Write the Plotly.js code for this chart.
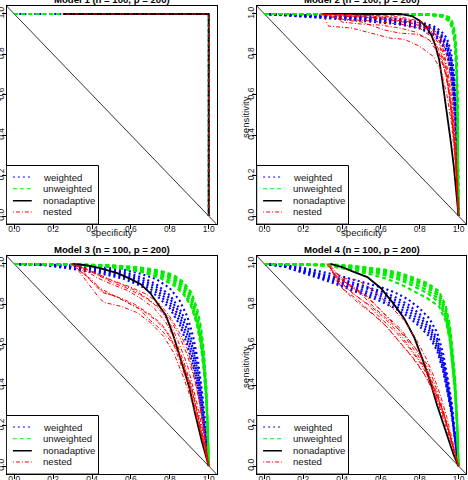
<!DOCTYPE html>
<html><head><meta charset="utf-8">
<script src="https://cdn.plot.ly/plotly-3.0.1.min.js"></script>
<style>html,body{margin:0;padding:0;background:#fff}#chart{width:468px;height:480px}</style>
</head><body><div id="chart"></div>
<script>
// ---------- text ----------
const panelTitles = ['Model 1 (n = 100, p = 200)', 'Model 2 (n = 100, p = 200)',
                     'Model 3 (n = 100, p = 200)', 'Model 4 (n = 100, p = 200)'];
const legendLabels = ['weighted', 'unweighted', 'nonadaptive', 'nested'];
const tickVals = [0, 0.2, 0.4, 0.6, 0.8, 1.0];
const tickLabels = ['0.0', '0.2', '0.4', '0.6', '0.8', '1.0'];
const xTitle = 'specificity';
const yTitle = 'sensitivity';

// reference line sens = 1 - spec
const diagSpec = [-0.04, 1.04];
const diagSens = [1.04, -0.04];

// ---------- Model 1 ----------
const m1WeightedSpec = [0, 1, 1];
const m1WeightedSens = [[1, 1, 0]];
const m1UnweightedSpec = [0, 1, 1];
const m1UnweightedSens = [[1, 1, 0]];
const m1NonadaptiveSpec = [0.25, 1, 1];
const m1NonadaptiveSens = [[1, 1, 0]];
const m1NestedSpec = [[0.25, 1, 1]];
const m1NestedSens = [[1, 1, 0]];

// ---------- Model 2 ----------
const m2WeightedSpec = [0, 0.3, 0.5, 0.7, 0.8, 0.87, 0.91, 0.94, 0.96, 0.975, 0.985, 0.993, 1];
const m2WeightedSens = [
  [1, 0.995, 0.988, 0.975, 0.96, 0.94, 0.915, 0.88, 0.82, 0.72, 0.58, 0.38, 0],
  [1, 0.992, 0.983, 0.968, 0.952, 0.93, 0.9, 0.86, 0.79, 0.68, 0.53, 0.33, 0],
  [1, 0.988, 0.977, 0.96, 0.944, 0.918, 0.885, 0.84, 0.76, 0.64, 0.49, 0.3, 0],
  [1, 0.985, 0.972, 0.953, 0.935, 0.905, 0.87, 0.82, 0.73, 0.6, 0.45, 0.27, 0],
  [1, 0.99, 0.98, 0.964, 0.948, 0.924, 0.893, 0.85, 0.775, 0.66, 0.51, 0.31, 0],
  [1, 0.982, 0.967, 0.948, 0.928, 0.897, 0.86, 0.805, 0.71, 0.58, 0.43, 0.25, 0]
];
const m2UnweightedSpec = [0, 0.5, 0.85, 0.92, 0.95, 0.965, 0.975, 0.983, 0.99, 0.995, 1];
const m2UnweightedSens = [
  [1, 1, 0.998, 0.993, 0.98, 0.96, 0.93, 0.88, 0.76, 0.55, 0],
  [1, 1, 0.997, 0.99, 0.975, 0.95, 0.915, 0.86, 0.73, 0.5, 0],
  [1, 1, 0.996, 0.988, 0.97, 0.945, 0.905, 0.84, 0.7, 0.47, 0],
  [1, 0.999, 0.995, 0.985, 0.965, 0.935, 0.89, 0.82, 0.67, 0.44, 0],
  [1, 1, 0.999, 0.995, 0.985, 0.968, 0.94, 0.9, 0.79, 0.6, 0],
  [1, 1, 0.998, 0.991, 0.978, 0.955, 0.925, 0.87, 0.745, 0.52, 0]
];
const m2NonadaptiveSpec = [0.3, 0.7, 0.76, 0.8, 0.835, 0.86, 0.88, 0.9, 0.915, 0.93, 0.945, 0.96, 0.975, 0.988, 1];
const m2NonadaptiveSens = [[1, 1, 0.99, 0.967, 0.935, 0.895, 0.845, 0.775, 0.68, 0.58, 0.48, 0.37, 0.25, 0.12, 0]];
const m2NestedSpec = [
  [0.28, 0.5, 0.7, 0.8, 0.86, 0.9, 0.93, 0.95, 0.97, 0.985, 1],
  [0.30, 0.45, 0.6, 0.75, 0.85, 0.9, 0.93, 0.955, 0.975, 0.99, 1],
  [0.32, 0.4, 0.55, 0.7, 0.8, 0.87, 0.91, 0.94, 0.96, 0.98, 1],
  [0.30, 0.33, 0.45, 0.55, 0.65, 0.72, 0.8, 0.87, 0.91, 0.94, 0.965, 0.985, 1],
  [0.34, 0.4, 0.5, 0.6, 0.7, 0.78, 0.85, 0.9, 0.935, 0.96, 0.98, 1],
  [0.36, 0.5, 0.65, 0.75, 0.82, 0.88, 0.92, 0.945, 0.965, 0.985, 1],
  [0.29, 0.42, 0.5, 0.62, 0.7, 0.78, 0.84, 0.89, 0.925, 0.95, 0.97, 0.99, 1],
  [0.31, 0.55, 0.72, 0.82, 0.88, 0.92, 0.945, 0.965, 0.98, 0.993, 1]
];
const m2NestedSens = [
  [1, 0.995, 0.985, 0.965, 0.93, 0.87, 0.77, 0.65, 0.48, 0.3, 0],
  [1, 0.99, 0.98, 0.96, 0.92, 0.85, 0.75, 0.6, 0.42, 0.2, 0],
  [0.99, 0.975, 0.965, 0.95, 0.93, 0.88, 0.8, 0.68, 0.53, 0.33, 0],
  [1, 0.94, 0.93, 0.905, 0.88, 0.875, 0.84, 0.79, 0.72, 0.6, 0.45, 0.25, 0],
  [1, 0.96, 0.95, 0.945, 0.93, 0.91, 0.87, 0.8, 0.7, 0.55, 0.35, 0],
  [0.99, 0.985, 0.97, 0.955, 0.94, 0.9, 0.83, 0.72, 0.58, 0.35, 0],
  [1, 0.97, 0.96, 0.92, 0.905, 0.9, 0.88, 0.83, 0.74, 0.62, 0.46, 0.22, 0],
  [1, 0.99, 0.975, 0.95, 0.915, 0.86, 0.77, 0.64, 0.45, 0.22, 0]
];

// ---------- Model 3 ----------
const m3WeightedSpec = [0, 0.15, 0.27, 0.44, 0.56, 0.65, 0.73, 0.8, 0.85, 0.89, 0.92, 0.945, 0.965, 0.985, 1];
const m3WeightedSens = [
  [1, 0.998, 0.993, 0.978, 0.962, 0.936, 0.9, 0.845, 0.78, 0.7, 0.6, 0.49, 0.35, 0.17, 0],
  [1, 0.997, 0.99, 0.972, 0.953, 0.925, 0.887, 0.83, 0.76, 0.675, 0.575, 0.46, 0.32, 0.15, 0],
  [1, 0.996, 0.987, 0.966, 0.945, 0.914, 0.873, 0.813, 0.74, 0.65, 0.55, 0.43, 0.29, 0.135, 0],
  [1, 0.995, 0.984, 0.96, 0.937, 0.903, 0.86, 0.797, 0.72, 0.625, 0.52, 0.4, 0.27, 0.12, 0],
  [1, 0.994, 0.98, 0.953, 0.928, 0.892, 0.845, 0.78, 0.7, 0.6, 0.495, 0.38, 0.25, 0.11, 0],
  [1, 0.998, 0.995, 0.985, 0.972, 0.952, 0.925, 0.88, 0.82, 0.74, 0.64, 0.52, 0.37, 0.18, 0]
];
const m3UnweightedSpec = [0, 0.3, 0.5, 0.65, 0.75, 0.82, 0.87, 0.91, 0.94, 0.96, 0.975, 0.988, 0.996, 1];
const m3UnweightedSens = [
  [1, 0.999, 0.994, 0.983, 0.967, 0.946, 0.91, 0.86, 0.78, 0.69, 0.57, 0.39, 0.17, 0],
  [1, 0.998, 0.992, 0.979, 0.961, 0.938, 0.9, 0.845, 0.76, 0.665, 0.545, 0.37, 0.16, 0],
  [1, 0.998, 0.99, 0.975, 0.955, 0.93, 0.89, 0.83, 0.74, 0.64, 0.52, 0.35, 0.15, 0],
  [1, 0.997, 0.987, 0.97, 0.948, 0.92, 0.877, 0.812, 0.72, 0.615, 0.495, 0.33, 0.14, 0],
  [1, 0.996, 0.984, 0.964, 0.94, 0.908, 0.862, 0.795, 0.7, 0.59, 0.47, 0.31, 0.13, 0],
  [1, 0.997, 0.985, 0.962, 0.93, 0.895, 0.85, 0.79, 0.705, 0.6, 0.48, 0.32, 0.135, 0]
];
const m3NonadaptiveSpec = [0.3, 0.36, 0.44, 0.53, 0.6, 0.65, 0.7, 0.74, 0.78, 0.82, 0.86, 0.9, 0.93, 0.965, 1];
const m3NonadaptiveSens = [[1, 0.995, 0.98, 0.955, 0.925, 0.9, 0.855, 0.8, 0.745, 0.64, 0.52, 0.39, 0.26, 0.12, 0]];
const m3NestedSpec = [
  [0.3, 0.34, 0.38, 0.43, 0.5, 0.58, 0.65, 0.72, 0.78, 0.83, 0.87, 0.91, 0.95, 0.98, 1],
  [0.31, 0.36, 0.41, 0.45, 0.52, 0.6, 0.66, 0.73, 0.79, 0.84, 0.88, 0.92, 0.955, 0.98, 1],
  [0.29, 0.33, 0.4, 0.46, 0.55, 0.62, 0.7, 0.76, 0.81, 0.86, 0.9, 0.93, 0.96, 0.985, 1],
  [0.32, 0.36, 0.4, 0.43, 0.46, 0.55, 0.63, 0.7, 0.77, 0.82, 0.87, 0.91, 0.95, 0.98, 1],
  [0.33, 0.4, 0.47, 0.55, 0.62, 0.7, 0.76, 0.81, 0.85, 0.89, 0.92, 0.95, 0.975, 1],
  [0.3, 0.37, 0.44, 0.5, 0.58, 0.66, 0.74, 0.8, 0.85, 0.89, 0.93, 0.96, 0.985, 1],
  [0.35, 0.39, 0.44, 0.5, 0.56, 0.64, 0.7, 0.76, 0.82, 0.86, 0.9, 0.94, 0.97, 1],
  [0.3, 0.35, 0.42, 0.5, 0.6, 0.68, 0.75, 0.8, 0.85, 0.89, 0.92, 0.95, 0.975, 1]
];
const m3NestedSens = [
  [1, 0.98, 0.96, 0.93, 0.9, 0.87, 0.83, 0.78, 0.71, 0.62, 0.52, 0.4, 0.24, 0.1, 0],
  [0.99, 0.95, 0.9, 0.86, 0.84, 0.8, 0.77, 0.72, 0.66, 0.57, 0.47, 0.35, 0.2, 0.09, 0],
  [1, 0.97, 0.92, 0.86, 0.83, 0.8, 0.75, 0.7, 0.62, 0.53, 0.42, 0.31, 0.18, 0.07, 0],
  [0.98, 0.93, 0.88, 0.84, 0.81, 0.79, 0.76, 0.71, 0.64, 0.56, 0.44, 0.33, 0.2, 0.08, 0],
  [0.99, 0.96, 0.93, 0.9, 0.87, 0.82, 0.76, 0.69, 0.6, 0.5, 0.39, 0.27, 0.14, 0],
  [1, 0.975, 0.94, 0.91, 0.88, 0.84, 0.79, 0.73, 0.64, 0.55, 0.42, 0.28, 0.12, 0],
  [0.97, 0.92, 0.88, 0.85, 0.82, 0.78, 0.72, 0.67, 0.6, 0.5, 0.39, 0.25, 0.12, 0],
  [1, 0.985, 0.955, 0.92, 0.885, 0.85, 0.8, 0.74, 0.66, 0.58, 0.47, 0.33, 0.17, 0]
];

// ---------- Model 4 ----------
const m4WeightedSpec = [0, 0.1, 0.18, 0.27, 0.36, 0.45, 0.53, 0.6, 0.67, 0.74, 0.8, 0.85, 0.89, 0.92, 0.945, 0.965, 0.98, 1];
const m4WeightedSens = [
  [1, 0.993, 0.978, 0.958, 0.935, 0.91, 0.888, 0.865, 0.838, 0.8, 0.752, 0.7, 0.63, 0.53, 0.41, 0.29, 0.16, 0],
  [1, 0.991, 0.974, 0.951, 0.927, 0.9, 0.877, 0.853, 0.824, 0.785, 0.736, 0.685, 0.615, 0.515, 0.395, 0.28, 0.155, 0],
  [1, 0.99, 0.97, 0.945, 0.92, 0.89, 0.865, 0.84, 0.81, 0.77, 0.72, 0.67, 0.6, 0.5, 0.38, 0.27, 0.15, 0],
  [1, 0.988, 0.966, 0.938, 0.912, 0.88, 0.853, 0.827, 0.796, 0.755, 0.704, 0.655, 0.585, 0.485, 0.365, 0.26, 0.145, 0],
  [1, 0.987, 0.962, 0.932, 0.904, 0.87, 0.842, 0.815, 0.782, 0.74, 0.69, 0.64, 0.57, 0.47, 0.355, 0.25, 0.14, 0],
  [1, 0.995, 0.985, 0.968, 0.948, 0.925, 0.905, 0.885, 0.86, 0.825, 0.78, 0.73, 0.66, 0.56, 0.43, 0.31, 0.17, 0]
];
const m4UnweightedSpec = [0, 0.2, 0.35, 0.45, 0.53, 0.62, 0.7, 0.77, 0.84, 0.9, 0.935, 0.955, 0.97, 0.982, 0.992, 1];
const m4UnweightedSens = [
  [1, 1, 0.998, 0.992, 0.984, 0.972, 0.955, 0.932, 0.905, 0.865, 0.79, 0.7, 0.57, 0.44, 0.25, 0],
  [1, 0.999, 0.996, 0.988, 0.979, 0.965, 0.947, 0.923, 0.895, 0.852, 0.775, 0.68, 0.55, 0.42, 0.235, 0],
  [1, 0.999, 0.995, 0.985, 0.975, 0.96, 0.94, 0.915, 0.885, 0.84, 0.76, 0.66, 0.53, 0.4, 0.22, 0],
  [1, 0.998, 0.993, 0.981, 0.969, 0.952, 0.93, 0.903, 0.87, 0.825, 0.745, 0.645, 0.515, 0.385, 0.21, 0],
  [1, 0.998, 0.991, 0.977, 0.963, 0.944, 0.92, 0.89, 0.855, 0.81, 0.73, 0.63, 0.5, 0.37, 0.2, 0],
  [1, 0.997, 0.988, 0.97, 0.953, 0.93, 0.9, 0.865, 0.83, 0.79, 0.715, 0.62, 0.49, 0.36, 0.195, 0]
];
const m4NonadaptiveSpec = [0.34, 0.4, 0.45, 0.53, 0.6, 0.66, 0.72, 0.77, 0.81, 0.85, 0.89, 0.92, 0.95, 0.975, 1];
const m4NonadaptiveSens = [[1, 0.985, 0.965, 0.935, 0.88, 0.81, 0.73, 0.64, 0.54, 0.43, 0.3, 0.21, 0.12, 0.055, 0]];
const m4NestedSpec = [
  [0.33, 0.36, 0.44, 0.53, 0.61, 0.7, 0.78, 0.84, 0.88, 0.92, 0.96, 1],
  [0.34, 0.38, 0.45, 0.53, 0.6, 0.68, 0.75, 0.81, 0.86, 0.9, 0.94, 0.97, 1],
  [0.32, 0.35, 0.42, 0.5, 0.58, 0.66, 0.73, 0.79, 0.84, 0.89, 0.93, 0.965, 1],
  [0.35, 0.4, 0.47, 0.54, 0.62, 0.69, 0.76, 0.82, 0.87, 0.91, 0.95, 0.98, 1],
  [0.33, 0.37, 0.43, 0.5, 0.57, 0.64, 0.71, 0.78, 0.83, 0.88, 0.92, 0.96, 1],
  [0.34, 0.39, 0.46, 0.55, 0.63, 0.7, 0.77, 0.83, 0.87, 0.91, 0.95, 0.98, 1],
  [0.33, 0.4, 0.48, 0.56, 0.64, 0.72, 0.78, 0.83, 0.87, 0.91, 0.94, 0.97, 1],
  [0.36, 0.41, 0.48, 0.56, 0.63, 0.71, 0.78, 0.84, 0.89, 0.93, 0.96, 0.985, 1]
];
const m4NestedSens = [
  [1, 0.95, 0.89, 0.84, 0.76, 0.68, 0.58, 0.5, 0.4, 0.28, 0.14, 0],
  [0.98, 0.92, 0.86, 0.8, 0.73, 0.66, 0.58, 0.5, 0.41, 0.32, 0.21, 0.11, 0],
  [1, 0.97, 0.91, 0.86, 0.79, 0.71, 0.63, 0.55, 0.46, 0.35, 0.24, 0.12, 0],
  [0.96, 0.88, 0.83, 0.77, 0.7, 0.62, 0.54, 0.46, 0.37, 0.27, 0.15, 0.06, 0],
  [0.99, 0.94, 0.9, 0.85, 0.78, 0.72, 0.66, 0.58, 0.5, 0.38, 0.27, 0.13, 0],
  [0.97, 0.91, 0.85, 0.79, 0.72, 0.65, 0.56, 0.48, 0.39, 0.29, 0.17, 0.07, 0],
  [1, 0.93, 0.92, 0.87, 0.8, 0.72, 0.63, 0.54, 0.45, 0.34, 0.24, 0.12, 0],
  [0.93, 0.87, 0.81, 0.75, 0.69, 0.6, 0.52, 0.43, 0.33, 0.23, 0.14, 0.05, 0]
];

// ---------- build ----------
const FONT = 'Liberation Sans, Arial, Helvetica, sans-serif';
const styles = {
  weighted:    {color: '#0000ff', width: 2.1, dash: '2px,3px'},
  unweighted:  {color: '#00ee00', width: 2.1, dash: '4px,3px'},
  nonadaptive: {color: '#000000', width: 1.8, dash: 'solid'},
  nested:      {color: '#ff0000', width: 1, dash: '1px,2px,4px,2px'}
};
const legendStyles = [
  {color: '#0000ff', width: 1, dash: '2px,3px'},
  {color: '#00ee00', width: 1, dash: '4px,3px'},
  {color: '#000000', width: 1.5, dash: 'solid'},
  {color: '#ff0000', width: 1, dash: '1px,2px,4px,2px'}
];

const panels = [
  {xa: 'x',  ya: 'y',  groups: [
    ['weighted', m1WeightedSpec, m1WeightedSens], ['unweighted', m1UnweightedSpec, m1UnweightedSens],
    ['nonadaptive', m1NonadaptiveSpec, m1NonadaptiveSens], ['nested', m1NestedSpec, m1NestedSens]]},
  {xa: 'x2', ya: 'y2', groups: [
    ['weighted', m2WeightedSpec, m2WeightedSens], ['unweighted', m2UnweightedSpec, m2UnweightedSens],
    ['nonadaptive', m2NonadaptiveSpec, m2NonadaptiveSens], ['nested', m2NestedSpec, m2NestedSens]]},
  {xa: 'x3', ya: 'y3', groups: [
    ['weighted', m3WeightedSpec, m3WeightedSens], ['unweighted', m3UnweightedSpec, m3UnweightedSens],
    ['nonadaptive', m3NonadaptiveSpec, m3NonadaptiveSens], ['nested', m3NestedSpec, m3NestedSens]]},
  {xa: 'x4', ya: 'y4', groups: [
    ['weighted', m4WeightedSpec, m4WeightedSens], ['unweighted', m4UnweightedSpec, m4UnweightedSens],
    ['nonadaptive', m4NonadaptiveSpec, m4NonadaptiveSens], ['nested', m4NestedSpec, m4NestedSens]]}
];

const traces = [];
const shapes = [];
const annotations = [];

panels.forEach((p, pi) => {
  traces.push({x: diagSpec, y: diagSens, xaxis: p.xa, yaxis: p.ya, mode: 'lines',
    line: {color: '#333', width: 1}, hoverinfo: 'skip', showlegend: false});
  p.groups.forEach(([name, spec, sensList]) => {
    sensList.forEach((sens, i) => {
      const xs = Array.isArray(spec[0]) ? spec[i] : spec;
      traces.push({x: xs, y: sens, xaxis: p.xa, yaxis: p.ya, mode: 'lines', name: name,
        line: styles[name], hoverinfo: 'skip', showlegend: false});
    });
  });
  // legend (R style, bottom-left, inside plot box)
  shapes.push({type: 'rect', xref: p.xa, yref: p.ya, x0: -0.04, x1: 0.433, y0: -0.04, y1: 0.25,
    line: {color: '#000', width: 1}, fillcolor: '#fff', layer: 'above'});
  const rows = [0.193, 0.135, 0.076, 0.02];
  legendLabels.forEach((lab, k) => {
    shapes.push({type: 'line', xref: p.xa, yref: p.ya, x0: -0.007, x1: 0.09, y0: rows[k], y1: rows[k],
      line: legendStyles[k], layer: 'above'});
    annotations.push({xref: p.xa, yref: p.ya, x: 0.137, y: rows[k], text: lab, showarrow: false,
      xanchor: 'left', yanchor: 'middle', font: {family: FONT, size: 9.6, color: '#111'}});
  });
});

// titles and axis labels (paper coordinates)
const W = 468, H = 480;
const titlePos = [[111.5, -0.5], [361.5, -0.5], [111.5, 249.5], [361.5, 249.5]];
titlePos.forEach(([px, py], i) => {
  annotations.push({xref: 'paper', yref: 'paper', x: px / W, y: 1 - py / H, text: panelTitles[i],
    showarrow: false, xanchor: 'center', yanchor: 'middle',
    font: {family: FONT, size: 9.6, color: '#000', weight: 'bold'}});
});
const xTitlePos = [[111.5, 233], [361.5, 233], [111.5, 483], [361.5, 483]];
xTitlePos.forEach(([px, py]) => {
  annotations.push({xref: 'paper', yref: 'paper', x: px / W, y: 1 - py / H, text: xTitle,
    showarrow: false, xanchor: 'center', yanchor: 'middle', font: {family: FONT, size: 9.6, color: '#111'}});
});
const yTitlePos = [[-5, 117], [245, 117], [-5, 367], [245, 367]];
yTitlePos.forEach(([px, py]) => {
  annotations.push({xref: 'paper', yref: 'paper', x: px / W, y: 1 - py / H, text: yTitle, textangle: -90,
    showarrow: false, xanchor: 'center', yanchor: 'middle', font: {family: FONT, size: 9.6, color: '#111'}});
});

function axis(domain, anchor, isX) {
  return {domain: domain, anchor: anchor, range: [-0.04, 1.04], tickmode: 'array',
    tickvals: tickVals, ticktext: tickLabels, ticks: 'outside', ticklen: 4, tickwidth: 1,
    tickcolor: '#000', showline: true, mirror: true, linecolor: '#000', linewidth: 1,
    showgrid: false, zeroline: false, fixedrange: true, tickangle: isX ? 0 : -90,
    ticklabelstandoff: isX ? -7 : -6,
    tickfont: {family: FONT, size: 8.5, color: '#222'}};
}
const xL = [6.5 / W, 216.5 / W], xR = [256.7 / W, 466.3 / W];
const yT = [1 - 224.1 / H, 1 - 5.9 / H], yB = [1 - 474.1 / H, 1 - 255.9 / H];

const layout = {
  width: W, height: H, margin: {l: 0, r: 0, t: 0, b: 0}, showlegend: false,
  paper_bgcolor: '#fff', plot_bgcolor: '#fff',
  xaxis: axis(xL, 'y', true),   yaxis: axis(yT, 'x', false),
  xaxis2: axis(xR, 'y2', true), yaxis2: axis(yT, 'x2', false),
  xaxis3: axis(xL, 'y3', true), yaxis3: axis(yB, 'x3', false),
  xaxis4: axis(xR, 'y4', true), yaxis4: axis(yB, 'x4', false),
  shapes: shapes, annotations: annotations
};
Plotly.newPlot('chart', traces, layout, {staticPlot: true, displayModeBar: false});
</script></body></html>
